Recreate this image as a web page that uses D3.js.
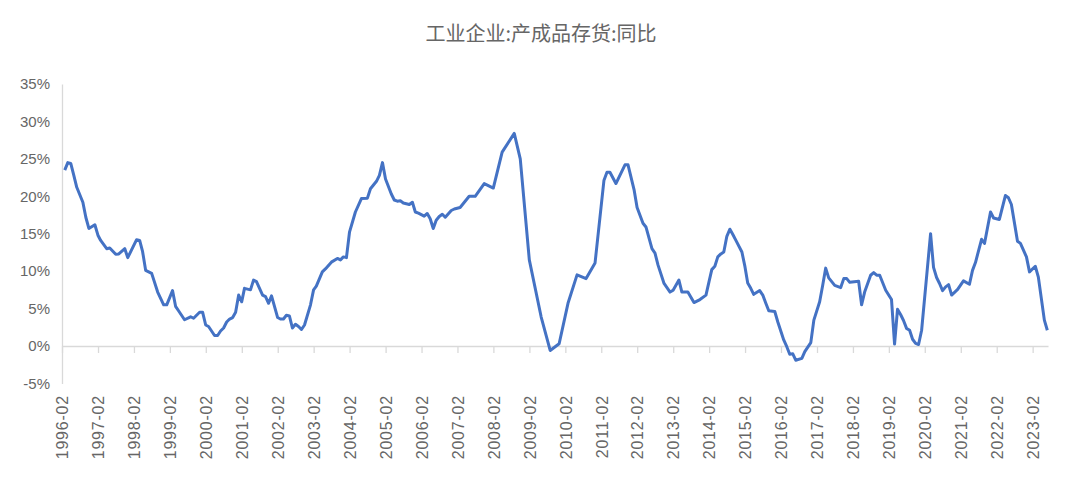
<!DOCTYPE html>
<html>
<head>
<meta charset="utf-8">
<script src="https://cdn.jsdelivr.net/npm/d3@7"></script>
<style>
  body { margin: 0; background: #fff; }
  #chart text { fill: #666; }
</style>
</head>
<body>
<div id="chart"></div>
<script>
// month of each observation (plotted at month end)
var dates = [
  "1996-02","1996-03","1996-04","1996-05","1996-06","1996-08","1996-09","1996-10","1996-12",
  "1997-01","1997-02","1997-04","1997-05","1997-07","1997-08","1997-10","1997-11",
  "1998-02","1998-03","1998-04","1998-05","1998-07","1998-09","1998-11","1998-12",
  "1999-02","1999-03","1999-04","1999-06","1999-08","1999-09","1999-11","1999-12",
  "2000-01","2000-02","2000-04","2000-05","2000-06","2000-07","2000-08","2000-09","2000-10","2000-11","2000-12",
  "2001-01","2001-02","2001-04","2001-05","2001-06","2001-08","2001-09","2001-10","2001-11",
  "2002-01","2002-02","2002-03","2002-04","2002-05","2002-06","2002-07","2002-08","2002-09","2002-10","2002-12",
  "2003-01","2003-02","2003-04","2003-05","2003-07","2003-09","2003-10","2003-11","2003-12",
  "2004-01","2004-03","2004-05","2004-07","2004-08","2004-10","2004-11","2004-12",
  "2005-01","2005-03","2005-04","2005-05","2005-06","2005-07","2005-09","2005-10","2005-11","2005-12",
  "2006-02","2006-03","2006-04","2006-05","2006-06","2006-07","2006-08","2006-09","2006-11","2006-12",
  "2007-02","2007-05","2007-07","2007-10",
  "2008-01","2008-04","2008-08","2008-10",
  "2009-01","2009-05","2009-08","2009-11",
  "2010-02","2010-05","2010-08","2010-11",
  "2011-02","2011-03","2011-04","2011-06","2011-09","2011-10","2011-12",
  "2012-01","2012-03","2012-04","2012-06","2012-07","2012-08","2012-10","2012-12",
  "2013-01","2013-03","2013-04","2013-06","2013-08","2013-10","2013-12",
  "2014-01","2014-02","2014-03","2014-04","2014-05","2014-06","2014-07","2014-08","2014-09","2014-10","2014-12",
  "2015-01","2015-02","2015-03","2015-04","2015-06","2015-07","2015-08","2015-09","2015-11","2015-12",
  "2016-02","2016-03","2016-04","2016-05","2016-06","2016-08","2016-09","2016-11","2016-12",
  "2017-02","2017-03","2017-04","2017-05","2017-07","2017-09","2017-10","2017-11","2017-12",
  "2018-03","2018-04","2018-05","2018-07","2018-08","2018-09","2018-10","2018-12",
  "2019-02","2019-03","2019-04","2019-05","2019-06","2019-07","2019-08","2019-09","2019-10","2019-11","2019-12",
  "2020-03","2020-04","2020-05","2020-06","2020-07","2020-08","2020-09","2020-10","2020-12",
  "2021-02","2021-04","2021-05","2021-06","2021-08","2021-09","2021-11","2021-12",
  "2022-02","2022-04","2022-05","2022-06","2022-08","2022-09","2022-11","2022-12",
  "2023-02","2023-03","2023-05","2023-06"
];

// 产成品存货同比, %
var values = [
  23.5, 24.5, 24.4, 22.8, 21.2, 19.2, 17.2, 15.7, 16.2,
  14.8, 14.1, 13.0, 13.1, 12.25, 12.3, 13.0, 11.8,
  14.2, 14.1, 12.6, 10.1, 9.7, 7.2, 5.5, 5.5,
  7.4, 5.3, 4.7, 3.5, 3.9, 3.7, 4.5, 4.5,
  2.8, 2.6, 1.4, 1.4, 2.0, 2.4, 3.2, 3.6, 3.8, 4.5, 6.8,
  5.9, 7.7, 7.5, 8.8, 8.6, 6.8, 6.6, 5.7, 6.7,
  3.8, 3.6, 3.6, 4.1, 4.0, 2.4, 2.9, 2.6, 2.2, 2.8, 5.5,
  7.5, 8.0, 9.9, 10.3, 11.2, 11.7, 11.5, 11.9, 11.8,
  15.2, 17.9, 19.7, 19.75, 21.0, 22.0, 22.8, 24.5,
  22.3, 20.3, 19.5, 19.35, 19.4, 19.1, 18.9, 19.2, 17.9, 17.75,
  17.35, 17.7, 17.0, 15.7, 16.8, 17.3, 17.6, 17.2, 18.1, 18.3,
  18.5, 20.0, 20.0, 21.7,
  21.1, 25.9, 28.4, 25.0,
  11.5, 3.9, -0.6, 0.3,
  5.7, 9.5, 9.0, 11.1,
  22.1, 23.2, 23.2, 21.7, 24.2, 24.2, 20.9,
  18.5, 16.4, 15.9, 13.0, 12.4, 10.8, 8.35, 7.2,
  7.45, 8.8, 7.2, 7.2, 5.8, 6.2, 6.8,
  8.6, 10.2, 10.65, 11.9, 12.3, 12.55, 14.65, 15.6, 14.9, 14.1, 12.55,
  10.6, 8.4, 7.7, 6.9, 7.4, 6.8, 5.7, 4.7, 4.6, 3.2,
  0.8, -0.1, -1.1, -1.05, -1.9, -1.65, -0.75, 0.45, 3.45,
  5.9, 8.1, 10.4, 9.1, 8.1, 7.8, 9.0, 9.0, 8.5,
  8.65, 5.5, 7.2, 9.45, 9.8, 9.45, 9.45, 7.45,
  6.2, 0.25, 4.9, 4.2, 3.4, 2.35, 2.1, 0.9, 0.35, 0.2, 2.1,
  15.0, 10.5, 9.15, 8.35, 7.4, 7.9, 8.2, 6.8, 7.55,
  8.7, 8.25, 10.1, 11.15, 14.25, 13.7, 17.9, 17.1,
  16.9, 20.1, 19.8, 18.9, 14.0, 13.7, 11.9, 9.9,
  10.65, 9.2, 3.45, 2.1
];

var xTickLabels = [
  "1996-02","1997-02","1998-02","1999-02","2000-02","2001-02","2002-02",
  "2003-02","2004-02","2005-02","2006-02","2007-02","2008-02","2009-02",
  "2010-02","2011-02","2012-02","2013-02","2014-02","2015-02","2016-02",
  "2017-02","2018-02","2019-02","2020-02","2021-02","2022-02","2023-02"
];

var yTicks = [-5, 0, 5, 10, 15, 20, 25, 30, 35];

var title = "工业企业:产成品存货:同比";

var W = 1080, H = 491;
var parseMonth = d3.timeParse("%Y-%m");
var monthEnd = function(s) {
  return d3.timeDay.offset(d3.timeMonth.offset(parseMonth(s), 1), -1);
};

var data = dates.map(function(d, i) { return { date: monthEnd(d), value: values[i] }; });

var svg = d3.select('#chart').append('svg')
  .attr('width', W)
  .attr('height', H)
  .style('font-family', '"Liberation Sans", Arial, sans-serif');

var x = d3.scaleTime()
  .domain([parseMonth("1996-02"), new Date(2023, 6, 7)])
  .range([62, 1048]);

var y = d3.scaleLinear()
  .domain([-5, 35])
  .range([383.4, 84]);

// title
svg.append('text')
  .attr('x', 541)
  .attr('y', 41)
  .attr('text-anchor', 'middle')
  .style('font-family', '"Noto Sans CJK SC", sans-serif')
  .style('font-size', '20px')
  .text(title);

// y axis (line + labels only)
var yAxis = svg.append('g')
  .attr('transform', 'translate(62,0)')
  .call(d3.axisLeft(y)
    .tickValues(yTicks)
    .tickSize(0)
    .tickPadding(12)
    .tickFormat(function(d) { return d + '%'; }));
yAxis.select('.domain').attr('stroke', '#d9d9d9').attr('stroke-width', 1.3);
yAxis.selectAll('text').style('font-size', '15px');

// x axis along 0%
var xAxis = svg.append('g')
  .attr('transform', 'translate(0,' + y(0) + ')')
  .call(d3.axisBottom(x)
    .tickValues(xTickLabels.map(parseMonth))
    .tickSize(7)
    .tickSizeOuter(0)
    .tickFormat(function(d, i) { return xTickLabels[i]; }));
xAxis.select('.domain').attr('stroke', '#d9d9d9').attr('stroke-width', 1.3);
xAxis.selectAll('.tick line').attr('stroke', '#d9d9d9').attr('stroke-width', 1.3);
xAxis.selectAll('text')
  .attr('transform', 'rotate(-90)')
  .attr('text-anchor', 'end')
  .attr('x', -(395 - y(0)))
  .attr('y', 0)
  .attr('dy', '0.36em')
  .style('font-size', '16px')
  .style('letter-spacing', '0.8px');

// series
var line = d3.line()
  .x(function(d) { return x(d.date); })
  .y(function(d) { return y(d.value); });

svg.append('path')
  .datum(data)
  .attr('fill', 'none')
  .attr('stroke', '#4472C4')
  .attr('stroke-width', 3)
  .attr('stroke-linejoin', 'round')
  .attr('d', line);
</script>
</body>
</html>
